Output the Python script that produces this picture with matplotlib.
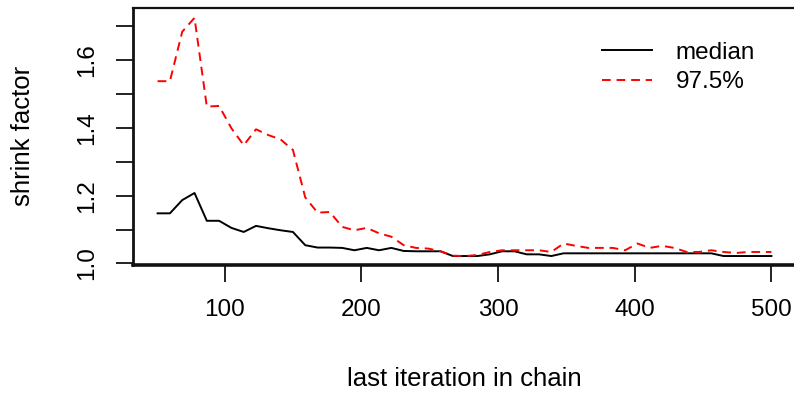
import matplotlib
matplotlib.use("Agg")
import matplotlib.pyplot as plt

plt.rcParams['font.family'] = ['Liberation Sans', 'DejaVu Sans']

# Gelman-Rubin shrink factor against the last iteration used
last_iter = [51, 60, 69, 78, 87, 96, 105, 114, 123, 132,
             141, 150, 159, 168, 177, 186, 195, 204, 213, 222,
             231, 240, 249, 258, 267, 276, 285, 294, 303, 312,
             321, 330, 339, 348, 357, 366, 375, 384, 393, 402,
             411, 420, 429, 438, 447, 456, 465, 474, 483, 492, 500]

median = [1.148, 1.148, 1.187, 1.208, 1.126, 1.126, 1.105, 1.093, 1.111, 1.104,
          1.098, 1.093, 1.054, 1.047, 1.047, 1.046, 1.039, 1.046, 1.039, 1.046,
          1.037, 1.036, 1.036, 1.036, 1.022, 1.022, 1.022, 1.027, 1.036, 1.036,
          1.027, 1.027, 1.022, 1.030, 1.030, 1.030, 1.030, 1.030, 1.030, 1.030,
          1.030, 1.030, 1.030, 1.030, 1.030, 1.030, 1.022, 1.022, 1.022, 1.022, 1.022]

upper = [1.538, 1.538, 1.684, 1.725, 1.463, 1.465, 1.399, 1.349, 1.396, 1.379,
         1.366, 1.335, 1.195, 1.150, 1.152, 1.108, 1.098, 1.105, 1.089, 1.079,
         1.054, 1.046, 1.044, 1.036, 1.023, 1.022, 1.025, 1.034, 1.039, 1.039,
         1.039, 1.039, 1.034, 1.059, 1.052, 1.046, 1.046, 1.046, 1.039, 1.059,
         1.046, 1.052, 1.046, 1.034, 1.034, 1.039, 1.034, 1.031, 1.034, 1.034, 1.034]

x_ticks = [100, 200, 300, 400, 500]
y_ticks = [1.0, 1.1, 1.2, 1.3, 1.4, 1.5, 1.6, 1.7]
y_labels = ['1.0', '', '1.2', '', '1.4', '', '1.6', '']

fig = plt.figure(figsize=(7.94, 3.94), dpi=100)
ax = fig.add_axes([133 / 794, 1 - 264.5 / 394, (796 - 133) / 794, (264.5 - 8) / 394])

ax.plot(last_iter, median, color='black', lw=1.4, label='median')
ax.plot(last_iter, upper, color='red', lw=1.4, dashes=(4.5, 3), label='97.5%')

ax.set_xlim(33, 518)
ax.set_ylim(0.997, 1.754)
ax.set_xticks(x_ticks)
ax.set_yticks(y_ticks)
ax.set_yticklabels(y_labels, rotation=90, va='center')

ax.tick_params(axis='both', direction='out', length=12, width=1.4,
               labelsize=17.5, pad=13, color='#222222')
for s in ax.spines.values():
    s.set_linewidth(1.6)
    s.set_color('#111111')
ax.spines['bottom'].set_linewidth(2.6)
ax.spines['left'].set_linewidth(2.0)

fig.text(464 / 794, 1 - 379 / 394, 'last iteration in chain', ha='center', va='center', fontsize=18.5)
fig.text(23 / 794, 1 - 136 / 394, 'shrink factor', ha='center', va='center', rotation=90, fontsize=18.5)

ax.legend(loc='upper left', bbox_to_anchor=(592 / 794, 1 - 32 / 394), bbox_transform=fig.transFigure,
          frameon=False, fontsize=17.5, handlelength=2.05, handletextpad=1.0, labelspacing=0.3,
          borderaxespad=0)

fig.savefig('out.png', dpi=100)
